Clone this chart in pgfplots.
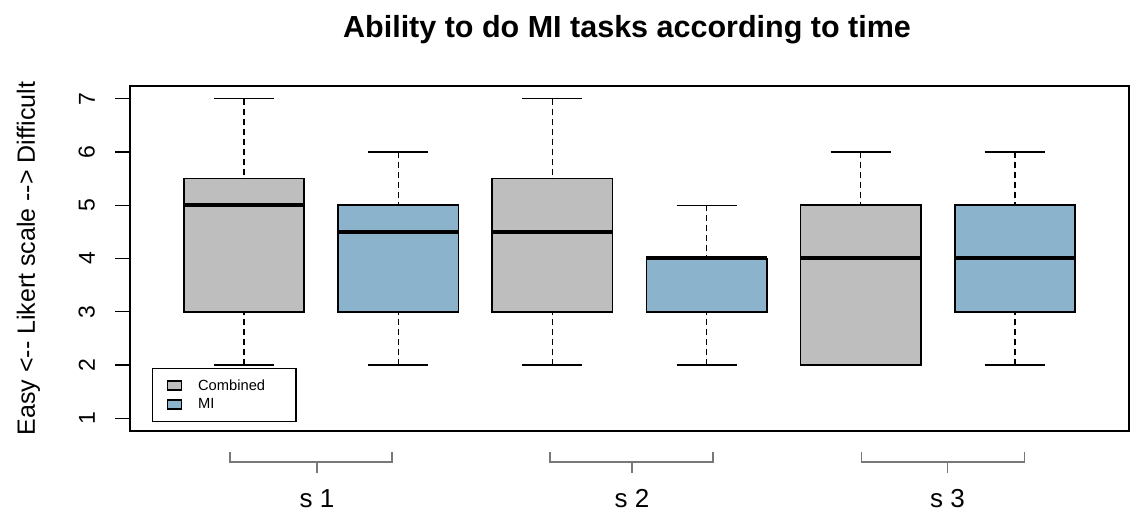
\documentclass[border=0pt]{standalone}
\usepackage{pgfplots}
\pgfplotsset{compat=1.18}
\usepgfplotslibrary{statistics}
\usepackage{fontspec}
\setmainfont{Liberation Sans}
\definecolor{cgray}{RGB}{190,190,190}
\definecolor{cblue}{RGB}{139,179,203}
\definecolor{bracket}{RGB}{120,120,120}

\pgfplotsset{
  rbox/.style={
    boxplot/draw direction=y,
    boxplot/box extend=0.78,
    boxplot/whisker extend=0.39,
    boxplot/every box/.style={draw=black, line width=1.6pt},
    boxplot/every median/.style={draw=black, line width=4pt},
    boxplot/draw/lower whisker/.code={%
      \draw[draw=black, line width=1.3pt, dash pattern=on 6pt off 4pt]
        (boxplot cs:\pgfplotsboxplotvalue{lower whisker}) -- (boxplot cs:\pgfplotsboxplotvalue{lower quartile});
      \draw[draw=black, line width=1.3pt, solid]
        (boxplot whisker cs:\pgfplotsboxplotvalue{lower whisker},0) -- (boxplot whisker cs:\pgfplotsboxplotvalue{lower whisker},1);
    },
    boxplot/draw/upper whisker/.code={%
      \draw[draw=black, line width=1.3pt, dash pattern=on 6pt off 4pt]
        (boxplot cs:\pgfplotsboxplotvalue{upper whisker}) -- (boxplot cs:\pgfplotsboxplotvalue{upper quartile});
      \draw[draw=black, line width=1.3pt, solid]
        (boxplot whisker cs:\pgfplotsboxplotvalue{upper whisker},0) -- (boxplot whisker cs:\pgfplotsboxplotvalue{upper whisker},1);
    },
  },
}

\begin{document}
\begin{tikzpicture}
\useasboundingbox (-130pt,-80pt) rectangle (1002pt,431pt);
\begin{axis}[
  at={(0,0)}, anchor=south west,
  scale only axis, width=999pt, height=345pt,
  xmin=0.26, xmax=6.74, ymin=0.76, ymax=7.24,
  xtick=\empty, ytick={1,2,3,4,5,6,7},
  axis line style={line width=1.3pt},
  tick style={line width=1.3pt, black},
  major tick length=15pt, tick align=outside, ytick pos=left,
  yticklabel style={rotate=90, anchor=south, inner sep=0pt,
    font=\fontsize{23}{23}\selectfont},
  yticklabel shift=20pt,
  /pgf/number format/assume math mode=true,
  clip=false,
  legend cell align=left,
  legend style={at={(0.022,0.1826)}, anchor=north west, draw=black,
    line width=1.3pt, inner xsep=14pt, inner ysep=9pt,
    column sep=14pt, row sep=3pt,
    font=\fontsize{14.7}{15}\selectfont,
    nodes={inner sep=2pt, text width=82pt}},
]
% s 1
\addplot[rbox, fill=cgray, draw=black,
  boxplot prepared={draw position=1, lower whisker=2, lower quartile=3,
    median=5, upper quartile=5.5, upper whisker=7},
  legend image code/.code={\draw[fill=cgray, draw=black, line width=1.5pt] (0pt,-4.5pt) rectangle (14pt,4.5pt);}]
  coordinates {};
\addlegendentry{Combined}
\addplot[rbox, fill=cblue, draw=black,
  boxplot prepared={draw position=2, lower whisker=2, lower quartile=3,
    median=4.5, upper quartile=5, upper whisker=6},
  legend image code/.code={\draw[fill=cblue, draw=black, line width=1.5pt] (0pt,-4.5pt) rectangle (14pt,4.5pt);}]
  coordinates {};
\addlegendentry{MI}
% s 2
\addplot[rbox, fill=cgray, draw=black, forget plot,
  boxplot prepared={draw position=3, lower whisker=2, lower quartile=3,
    median=4.5, upper quartile=5.5, upper whisker=7}]
  coordinates {};
\addplot[rbox, fill=cblue, draw=black, forget plot,
  boxplot prepared={draw position=4, lower whisker=2, lower quartile=3,
    median=4, upper quartile=4, upper whisker=5}]
  coordinates {};
% s 3
\addplot[rbox, fill=cgray, draw=black, forget plot,
  boxplot prepared={draw position=5, lower whisker=2, lower quartile=2,
    median=4, upper quartile=5, upper whisker=6}]
  coordinates {};
\addplot[rbox, fill=cblue, draw=black, forget plot,
  boxplot prepared={draw position=6, lower whisker=2, lower quartile=3,
    median=4, upper quartile=5, upper whisker=6}]
  coordinates {};

% group brackets below the axis
\draw[bracket, line width=1.3pt] (axis cs:0.909,0.365) -- (axis cs:0.909,0.177) -- (axis cs:1.960,0.177) -- (axis cs:1.960,0.365);
\draw[bracket, line width=1.3pt] (axis cs:1.473,0.177) -- (axis cs:1.473,-0.03);
\draw[bracket, line width=1.3pt] (axis cs:2.984,0.365) -- (axis cs:2.984,0.177) -- (axis cs:4.041,0.177) -- (axis cs:4.041,0.365);
\draw[bracket, line width=1.3pt] (axis cs:3.516,0.177) -- (axis cs:3.516,-0.03);
\draw[bracket, line width=1.3pt] (axis cs:5.007,0.365) -- (axis cs:5.007,0.177) -- (axis cs:6.064,0.177) -- (axis cs:6.064,0.365);
\draw[bracket, line width=1.3pt] (axis cs:5.562,0.177) -- (axis cs:5.562,-0.03);
\node[anchor=base, font=\fontsize{26}{26}\selectfont] at (axis cs:1.473,-0.669) {s 1};
\node[anchor=base, font=\fontsize{26}{26}\selectfont] at (axis cs:3.516,-0.669) {s 2};
\node[anchor=base, font=\fontsize{26}{26}\selectfont] at (axis cs:5.562,-0.669) {s 3};

% title and y label
\node[anchor=base, yshift=48pt, font=\bfseries\fontsize{30.5}{30.5}\selectfont]
  at (rel axis cs:0.4975,1) {Ability to do MI tasks according to time};
\node[rotate=90, anchor=center, font=\fontsize{25}{25}\selectfont]
  at (rel axis cs:-0.1016,0.5) {Easy <-{}- Likert scale -{}-> Difficult};
\end{axis}
\end{tikzpicture}
\end{document}
